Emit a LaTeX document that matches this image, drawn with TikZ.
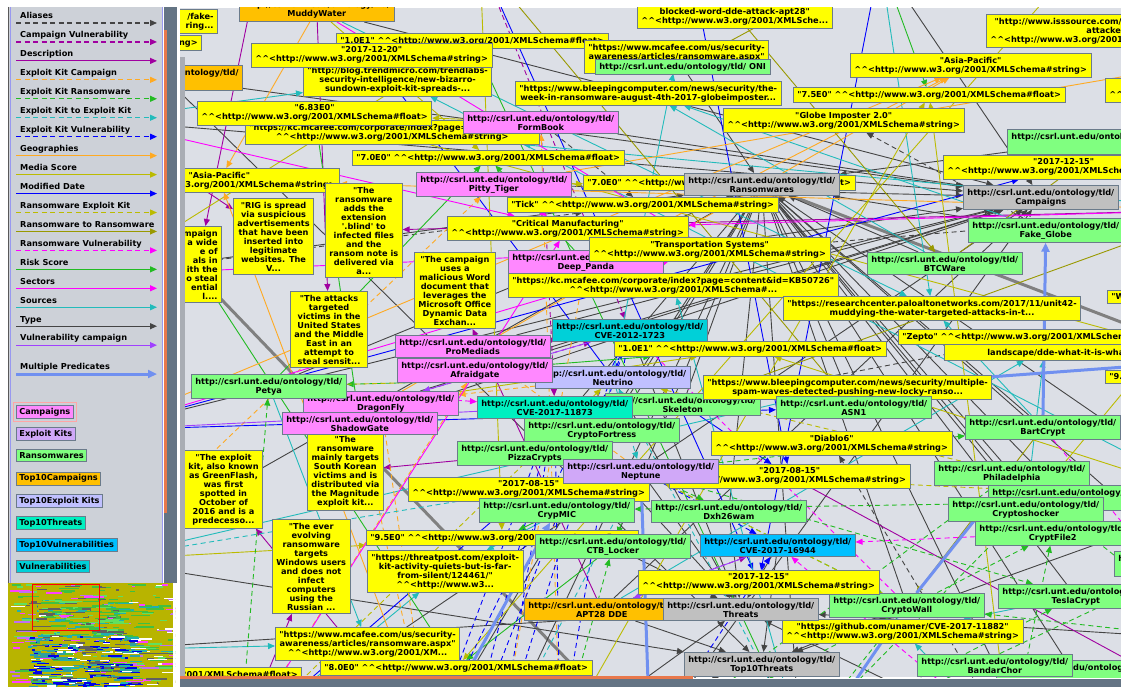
\documentclass[tikz,border=0pt]{standalone}
\usepackage{fontspec}
\newfontfamily\gfont{DejaVu Sans}
\usetikzlibrary{arrows.meta}

\definecolor{canvasbg}{HTML}{DCDFE6}
\definecolor{panelbg}{HTML}{CDD1D8}
\definecolor{slate}{HTML}{647484}
\definecolor{thumb}{HTML}{E8784C}
\definecolor{colgray}{HTML}{A9ADB4}
\definecolor{boxline}{HTML}{6B7B8B}
\definecolor{panline}{HTML}{9898F0}
\definecolor{litfill}{HTML}{FFFF00}
\definecolor{ransfill}{HTML}{80FF80}
\definecolor{campfill}{HTML}{FF88FF}
\definecolor{ekfill}{HTML}{D0A8F8}
\definecolor{tcampfill}{HTML}{FFC000}
\definecolor{tekfill}{HTML}{C0C0FF}
\definecolor{tthrfill}{HTML}{00F0C0}
\definecolor{tvulfill}{HTML}{00C0FF}
\definecolor{vulfill}{HTML}{00D0D8}
\definecolor{clsfill}{HTML}{C0C0C0}
\definecolor{ctyp}{HTML}{444444}
\definecolor{cpurp}{HTML}{A000A0}
\definecolor{corange}{HTML}{FFAA22}
\definecolor{cgreen}{HTML}{22BB22}
\definecolor{ccyan}{HTML}{22BBBB}
\definecolor{cblue}{HTML}{0000FF}
\definecolor{colive}{HTML}{BBBB00}
\definecolor{cdolive}{HTML}{999900}
\definecolor{cmag}{HTML}{FF00FF}
\definecolor{cviol}{HTML}{A040FF}
\definecolor{cmulti}{HTML}{7090F0}
\definecolor{cthick}{HTML}{808080}
\definecolor{mmol}{HTML}{B8B400}
\definecolor{mmg}{HTML}{40C040}
\definecolor{mml}{HTML}{60E060}
\definecolor{mmc}{HTML}{20B0B0}
\definecolor{mmt}{HTML}{30A0A0}
\definecolor{mmb}{HTML}{0000E8}
\definecolor{mmw}{HTML}{FFFFFF}
\definecolor{mmv}{HTML}{C070F0}
\definecolor{mmk}{HTML}{606060}
\definecolor{mmp}{HTML}{FF40FF}

\newcommand{\hats}{\textasciicircum\textasciicircum}
\newcommand{\xs}[1]{\hats<http://www.w3.org/2001/XMLSchema\##1>}
\newcommand{\tld}{http://csrl.unt.edu/ontology/tld/}

\pgfdeclarelayer{canvas}
\pgfdeclarelayer{edges}
\pgfsetlayers{canvas,edges,main}

\begin{document}
\begin{tikzpicture}[x=1pt,y=-1pt,
  nbox/.style={draw=boxline,line width=0.8pt,inner xsep=4pt,inner ysep=3.4pt,align=center,
    font=\gfont\bfseries\fontsize{8.2}{9}\selectfont},
  lit/.style={nbox,fill=litfill},
  rans/.style={nbox,fill=ransfill},
  campn/.style={nbox,fill=campfill},
  ekit/.style={nbox,fill=ekfill},
  tcamp/.style={nbox,fill=tcampfill},
  tek/.style={nbox,fill=tekfill},
  tthr/.style={nbox,fill=tthrfill},
  tvul/.style={nbox,fill=tvulfill},
  vul/.style={nbox,fill=vulfill},
  cls/.style={nbox,fill=clsfill},
  lgtxt/.style={inner sep=0pt,font=\gfont\bfseries\fontsize{8.2}{9}\selectfont},
  arr/.style={line width=0.9pt,-{Triangle[length=7pt,width=6pt]}},
  dsh/.style={dash pattern=on 5pt off 3.5pt},
  typ/.style={arr,draw=ctyp},
  al/.style={arr,dsh,draw=ctyp},
  ds/.style={arr,draw=cpurp},
  cv/.style={arr,dsh,draw=cpurp},
  ekc/.style={arr,dsh,draw=corange},
  ekr/.style={arr,dsh,draw=cgreen},
  eke/.style={arr,dsh,draw=ccyan},
  ekv/.style={arr,dsh,draw=cblue},
  geo/.style={arr,draw=corange},
  med/.style={arr,draw=colive},
  mod/.style={arr,draw=cblue},
  rek/.style={arr,dsh,draw=colive},
  rr/.style={arr,draw=cdolive},
  rv/.style={arr,dsh,draw=cmag},
  risk/.style={arr,draw=cgreen},
  sec/.style={arr,draw=cmag},
  src/.style={arr,draw=ccyan},
  vc/.style={arr,draw=cviol},
  mp/.style={draw=cmulti,line width=3pt,-{Triangle[length=9pt,width=8pt]}},
  tthick/.style={draw=cthick,line width=3pt}]

\useasboundingbox (0,0) rectangle (1121,687);
\begin{pgfonlayer}{canvas}
  \fill[white] (0,0) rectangle (1121,687);
  \fill[canvasbg] (180,8) rectangle (1121,677);
\end{pgfonlayer}

\begin{scope}
  \clip (180,8) rectangle (1121,677);
  \node[lit,anchor=north west] (f10) at (336,33) {"1.0E1" \xs{float}};
  \node[lit,anchor=north west] (trend) at (303,63) {"http://blog.trendmicro.com/trendlabs-\\security-intelligence/new-bizarro-\\sundown-exploit-kit-spreads-...};
  \node[lit,anchor=north west] (d1220) at (251,43) {"2017-12-20"\\\xs{string}};
  \node[lit,anchor=north east,align=right] (fake) at (218,9) {\hspace*{30pt}/fake-\\ring...};
  \node[tcamp,anchor=south west] (mud) at (239,22) {\tld\\MuddyWater};
  \node[lit,anchor=north east] (gstr) at (202,35) {\xs{string}};
  \node[tcamp,anchor=north east] (ontl) at (243,65) {\tld\\\strut};
  \node[lit,anchor=north west] (kcm1) at (245,120) {"https://kc.mcafee.com/corporate/index?page=content\&id=...\\\xs{string}};
  \node[lit,anchor=north west] (s683) at (197,101) {"6.83E0"\\\xs{float}};
  \node[campn,anchor=north west] (formb) at (463,111) {\tld\\FormBook};
  \node[lit,anchor=north west] (s70a) at (352,150) {"7.0E0" \xs{float}};
  \node[lit,anchor=north east] (asia1) at (340,168) {"Asia-Pacific"\\\xs{string}};
  \node[campn,anchor=north west] (pitty) at (416,172) {\tld\\Pitty\_Tiger};
  \node[lit,anchor=north west] (s70b) at (583,175) {"7.0E0" \xs{float}};
  \node[cls,anchor=north west] (ransw) at (684,173) {\tld\\Ransomwares};
  \node[lit,anchor=north west] (tick) at (507,197) {"Tick" \xs{string}};
  \node[lit,anchor=north west] (critm) at (447,216) {"Critical Manufacturing"\\\xs{string}};
  \node[campn,anchor=north west] (deepp) at (508,250) {\tld\\Deep\_Panda};
  \node[lit,anchor=north west] (transp) at (589,237) {"Transportation Systems"\\\xs{string}};
  \node[lit,anchor=north west] (kcm2) at (508,273) {"https://kc.mcafee.com/corporate/index?page=content\&id=KB50726"\\\hats<http://www.w3.org/2001/XMLSchema\#...};
  \node[lit,anchor=north west] (palo) at (783,296) {"https://researchcenter.paloaltonetworks.com/2017/11/unit42-\\muddying-the-water-targeted-attacks-in-t...};
  \node[rans,anchor=north west] (btcw) at (867,252) {\tld\\BTCWare};
  \node[cls,anchor=north west] (camp) at (963,185) {\tld\\Campaigns};
  \node[rans,anchor=north west] (fakeg) at (968,218) {\tld\\Fake\_Globe};
  \node[rans,anchor=north west] (grn1) at (1007,129) {\tld\\\strut};
  \node[lit,anchor=north west] (d1215a) at (943,155) {"2017-12-15"\\\xs{string}};
  \node[lit,anchor=north west] (globe) at (723,108) {"Globe Imposter 2.0"\\\xs{string}};
  \node[lit,anchor=north west] (s75) at (793,87) {"7.5E0" \xs{float}};
  \node[lit,anchor=north west] (asia2) at (850,53) {"Asia-Pacific"\\\xs{string}};
  \node[lit,anchor=north west] (isss) at (986,14) {"http://www.isssource.com/\hspace*{97pt}\\attacked\hspace*{12pt}\\\xs{string}};
  \node[lit,anchor=north west,align=left] (rpart1) at (1105,78) {\strut\\\xs{string}};
  \node[lit,anchor=south west] (dde) at (637,29) {\strut\\blocked-word-dde-attack-apt28"\\\hats<http://www.w3.org/2001/XMLSche...};
  \node[lit,anchor=north west] (mcaf1) at (584,40) {"https://www.mcafee.com/us/security-\\awareness/articles/ransomware.aspx"\\\hats<http://www.w3.org/2001/XM...};
  \node[rans,anchor=north west] (oni) at (595,59) {\tld\ ONI};
  \node[lit,anchor=north west] (bleep1) at (515,81) {"https://www.bleepingcomputer.com/news/security/the-\\week-in-ransomware-august-4th-2017-globeimposter...};
  \node[lit,anchor=north east,align=right] (campdesc) at (222,226) {ampaign\\a wide\\e of\\als in\\ith the\\o steal\\ential\\l....};
  \node[lit,anchor=north west] (rig) at (233,198) {"RIG is spread\\via suspicious\\advertisements\\that have been\\inserted into\\legitimate\\websites. The\\V...};
  \node[lit,anchor=north west] (blind) at (325,183) {"The\\ransomware\\adds the\\extension\\'.blind' to\\infected files\\and the\\ransom note is\\delivered via\\a...};
  \node[lit,anchor=north west] (attacks) at (290,291) {"The attacks\\targeted\\victims in the\\United States\\and the Middle\\East in an\\attempt to\\steal sensit...};
  \node[lit,anchor=north west] (wordcamp) at (414,252) {"The campaign\\uses a\\malicious Word\\document that\\leverages the\\Microsoft Office\\Dynamic Data\\Exchan...};
  \node[campn,anchor=north west] (promed) at (395,335) {\tld\\ProMediads};
  \node[tek,anchor=north west] (neutr) at (535,366) {\tld\\Neutrino};
  \node[campn,anchor=north west] (afraid) at (397,358) {\tld\\Afraidgate};
  \node[vul,anchor=north west] (cve1723) at (552,319) {\tld\\CVE-2012-1723};
  \node[lit,anchor=north west] (f10b) at (614,341) {"1.0E1" \xs{float}};
  \node[campn,anchor=north west] (dragon) at (303,391) {\tld\\DragonFly};
  \node[rans,anchor=north west] (petya) at (191,374) {\tld\\Petya};
  \node[lit,anchor=north west] (skorea) at (307,432) {"The\\ransomware\\mainly targets\\South Korean\\victims and is\\distributed via\\the Magnitude\\exploit kit...};
  \node[campn,anchor=north west] (shadow) at (282,412) {\tld\\ShadowGate};
  \node[rans,anchor=north west] (skel) at (605,393) {\tld\\Skeleton};
  \node[rans,anchor=north west] (cfort) at (524,418) {\tld\\CryptoFortress};
  \node[tthr,anchor=north west] (cve11873) at (477,396) {\tld\\CVE-2017-11873};
  \node[lit,anchor=north west] (bleep2) at (703,375) {"https://www.bleepingcomputer.com/news/security/multiple-\\spam-waves-detected-pushing-new-locky-ranso...};
  \node[rans,anchor=north west] (asn1) at (776,396) {\tld\\ASN1};
  \node[rans,anchor=north west] (bart) at (965,415) {\tld\\BartCrypt};
  \node[lit,anchor=north west] (diablo) at (711,431) {"Diablo6"\\\xs{string}};
  \node[lit,anchor=north west,align=left] (dde2) at (944,336) {\strut\\\hspace*{39pt}landscape/dde-what-it-is-what-...};
  \node[lit,anchor=north west] (zepto) at (898,329) {"Zepto" \xs{string}};
  \node[lit,anchor=north west,align=left] (wpart) at (1107,290) {"W\hspace*{40pt}};
  \node[lit,anchor=north west,align=left] (npart) at (1105,370) {"9.\hspace*{40pt}};
  \node[rans,anchor=north west] (phila) at (934,461) {\tld\\Philadelphia};
  \node[rans,anchor=north west] (grn2) at (988,485) {\tld\\\strut};
  \node[rans,anchor=north west] (cshock) at (948,497) {\tld\\Cryptoshocker};
  \node[rans,anchor=north west] (cfile) at (975,521) {\tld\\CryptFile2};
  \node[rans,anchor=north west] (grn3) at (1114,551) {\tld\\\strut};
  \node[rans,anchor=north west] (tesla) at (998,584) {\tld\\TeslaCrypt};
  \node[rans,anchor=north west] (cwall) at (829,593) {\tld\\CryptoWall};
  \node[lit,anchor=north west] (github) at (782,619) {"https://github.com/unamer/CVE-2017-11882"\\\xs{string}};
  \node[rans,anchor=north west] (grn4) at (996,660) {\tld\\\strut};
  \node[rans,anchor=north west] (bandar) at (917,654) {\tld\\BandarChor};
  \node[lit,anchor=north west] (d1215b) at (638,570) {"2017-12-15"\\\xs{string}};
  \node[tcamp,anchor=north west] (apt28) at (524,598) {\tld\\APT28 DDE};
  \node[cls,anchor=north west] (threats) at (663,598) {\tld\\Threats};
  \node[cls,anchor=north west] (top10t) at (684,652) {\tld\\Top10Threats};
  \node[tvul,anchor=north west] (cve16944) at (700,534) {\tld\\CVE-2017-16944};
  \node[rans,anchor=north west] (dxh) at (651,500) {\tld\\Dxh26wam};
  \node[lit,anchor=north west] (d0815a) at (669,464) {"2017-08-15"\\\xs{string}};
  \node[rans,anchor=north west] (pizza) at (457,441) {\tld\\PizzaCrypts};
  \node[lit,anchor=north west] (d0815b) at (408,477) {"2017-08-15"\\\xs{string}};
  \node[ekit,anchor=north west] (neptune) at (563,459) {\tld\\Neptune};
  \node[rans,anchor=north west] (crypmic) at (479,498) {\tld\\CrypMIC};
  \node[lit,anchor=north west] (s95) at (366,530) {"9.5E0" \xs{float}};
  \node[rans,anchor=north west] (ctb) at (535,534) {\tld\\CTB\_Locker};
  \node[lit,anchor=north west] (threatp) at (367,550) {"https://threatpost.com/exploit-\\kit-activity-quiets-but-is-far-\\from-silent/124461/"\\\hats<http://www.w3...};
  \node[lit,anchor=north west] (greenf) at (184,450) {"The exploit\\kit, also known\\as GreenFlash,\\was first\\spotted in\\October of\\2016 and is a\\predecesso...};
  \node[lit,anchor=north west] (evolv) at (272,519) {"The ever\\evolving\\ransomware\\targets\\Windows users\\and does not\\infect\\computers\\using the\\Russian ...};
  \node[lit,anchor=north west] (mcaf2) at (275,627) {"https://www.mcafee.com/us/security-\\awareness/articles/ransomware.aspx"\\\hats<http://www.w3.org/2001/XM...};
  \node[lit,anchor=north west] (s80) at (320,660) {"8.0E0" \xs{float}};
  \node[lit,anchor=north east] (fpart) at (302,667) {\xs{float}};
\end{scope}

\begin{pgfonlayer}{edges}
  \clip (180,8) rectangle (1121,677);
  \coordinate (oL1) at (100,120);
  \coordinate (oL2) at (100,275);
  \coordinate (oL3) at (100,430);
  \coordinate (oL4) at (100,560);
  \coordinate (oL5) at (100,650);
  \coordinate (oT1) at (260,-40);
  \coordinate (oT2) at (480,-40);
  \coordinate (oT3) at (690,-40);
  \coordinate (oT4) at (880,-40);
  \coordinate (oT5) at (1080,-40);
  \coordinate (oR1) at (1220,60);
  \coordinate (oR2) at (1220,210);
  \coordinate (oR3) at (1220,360);
  \coordinate (oR4) at (1220,500);
  \coordinate (oR5) at (1220,640);
  \coordinate (oR6) at (1220,710);
  \coordinate (oB1) at (240,740);
  \coordinate (oB2) at (430,740);
  \coordinate (oB3) at (560,740);
  \coordinate (oB4) at (800,740);
  \coordinate (oB5) at (1010,740);
  \coordinate (oB6) at (500,740);
  \coordinate (oB7) at (650,740);
  \coordinate (oB8) at (815,740);
  \coordinate (oB9) at (470,740);
  \coordinate (tgA) at (150,225);
  \coordinate (tgB) at (625,720);

  \draw[tthick] (tgA) -- (tgB);
  \draw[tthick] (ransw) -- (oR3);
  \foreach \a in {petya,cfort,skel,pizza,crypmic,ctb,dxh,asn1,bart,btcw,fakeg,oni,phila,cshock,cfile,tesla,cwall,bandar,grn1,grn2,grn3,grn4,oL2,oL4,oB2,oB4,oR4,oB6}
    \draw[typ] (\a) -- (ransw);
  \foreach \a in {formb,pitty,deepp,promed,afraid,dragon,shadow,mud,ontl,apt28,oL1,oL3,oB1,oB7,oT4}
    \draw[typ] (\a) -- (camp);
  \foreach \a in {oB3,oB5,ctb,cve1723,oL5,neutr,neptune,cve11873,cve16944,oR5,dxh}
    \draw[typ] (\a) -- (threats);
  \foreach \a in {apt28,ontl,cve16944,oB4,oB6,oR4,oL4,cwall}
    \draw[typ] (\a) -- (top10t);
  \foreach \a/\b in {formb/tick,fakeg/globe,oB5/diablo,skel/zepto,oR3/wpart,oL2/tick,deepp/oR2}
    \draw[al] (\a) -- (\b);
  \foreach \a/\b in {mud/attacks,apt28/wordcamp,oL1/rig,oB2/greenf,oR2/blind,oB1/evolv,pizza/skorea,oT1/campdesc,d0815a/oR6}
    \draw[ds] (\a) -- (\b);
  \foreach \a/\b in {dragon/cve1723,apt28/cve16944,formb/cve11873,oT2/cve1723}
    \draw[cv] (\a) -- (\b);
  \foreach \a/\b in {neutr/d1220,oL3/d1215a,oB1/d0815b,skel/d0815a,oT2/d1215b,oT3/d0815a,oL3/asn1,oT4/d1215b}
    \draw[mod] (\a) -- (\b);
  \foreach \a/\b in {cfort/mcaf1,fakeg/bleep1,oL1/trend,formb/kcm1,deepp/kcm2,mud/palo,oR1/isss,oT3/dde,apt28/dde2,oL4/bleep2,oB5/github,oB1/threatp,oL5/mcaf2,oL1/fake,skel/bleep2,petya/mcaf2,neptune/threatp,btcw/bleep1,asn1/bleep2,bart/palo,tesla/github,oB4/kcm2,oT4/palo,cshock/dde2,oR2/kcm1,oR4/trend}
    \draw[src] (\a) -- (\b);
  \foreach \a/\b in {formb/s683,pitty/s70b,oB3/s75,oL2/f10,dragon/f10b,oL4/s95,oT5/s80,mud/s70a,oR4/f10b,oB5/s75,cshock/npart,oR3/s683,oT2/s95}
    \draw[med] (\a) -- (\b);
  \foreach \a/\b in {neptune/s95,ctb/s80,oR3/npart,deepp/s70a,oT4/s75,shadow/s683,afraid/f10b,oL1/s80,oB4/f10,petya/s70a}
    \draw[risk] (\a) -- (\b);
  \foreach \a/\b in {oL3/asia2,mud/asia1,oR2/asia1,dragon/asia2,deepp/asia2,oB2/asia1,pitty/oR1}
    \draw[geo] (\a) -- (\b);
  \foreach \a/\b in {neutr/dragon,oB2/shadow,neptune/promed,oB3/formb,oL4/pitty,oB1/afraid,oB6/deepp,oB2/dragon}
    \draw[ekc] (\a) -- (\b);
  \foreach \a/\b in {pitty/critm,oL2/transp,deepp/transp,oL1/critm,mud/transp,oL3/transp,oB1/critm,oR2/critm}
    \draw[sec] (\a) -- (\b);
  \foreach \a/\b in {cfile/cve16944,petya/cve11873,cwall/cve1723,bart/oR5,oB5/cve16944}
    \draw[rv] (\a) -- (\b);
  \foreach \a/\b in {neutr/cve1723,neptune/cve16944,oB2/cve11873,oB3/cve1723,oB6/cve11873,oB7/cve16944,oB3/cve11873,oB2/cve1723,oB6/cve1723,oB9/cve11873,oB9/cve1723}
    \draw[ekv] (\a) -- (\b);
  \foreach \a/\b in {neptune/cwall,neptune/tesla,oB4/cshock,oB5/cfile,oB4/phila,neutr/petya,oB1/petya,oB5/bandar,neptune/bart,oR5/cwall,oB4/tesla,oR4/crypmic,neptune/dxh,neptune/ctb,oB3/ctb,oB7/phila,oB7/cfile,oR5/phila,oB8/grn3}
    \draw[ekr] (\a) -- (\b);
  \foreach \a/\b in {neutr/neptune,oB6/neptune,oL4/neptune,oB4/neutr}
    \draw[eke] (\a) -- (\b);
  \foreach \a/\b in {petya/neutr,cwall/neptune,oR4/neptune,phila/neutr,oB1/neutr}
    \draw[rek] (\a) -- (\b);
  \foreach \a/\b in {cshock/cfile,oT3/btcw,oni/oT4,bart/cwall,oR2/skel,oT2/asn1,btcw/oR1}
    \draw[rr] (\a) -- (\b);
  \foreach \a/\b in {cve1723/dragon,cve16944/apt28,cve11873/oL3}
    \draw[vc] (\a) -- (\b);
  \foreach \a/\b in {bart/fakeg,oB8/cwall,cwall/phila,oB2/crypmic,bleep2/oR3,oB7/neptune}
    \draw[mp] (\a) -- (\b);
\end{pgfonlayer}

\fill[colgray] (180,57) rectangle (184.5,676);
\fill[thumb] (180,676) rectangle (693,678.5);
\fill[slate] (180,678.5) rectangle (1121,687);

\fill[panelbg] (8,7) rectangle (163,583);
\draw[gray!70!black,line width=0.6pt] (8.3,7) -- (8.3,583);
\draw[panline,line width=0.8pt] (10.2,7) -- (10.2,583);
\draw[panline,line width=0.8pt] (162.6,7) -- (162.6,583);
\fill[slate] (163.5,7) rectangle (177,583);
\fill[thumb] (164,30) rectangle (167,513);

\foreach \i/\lbl/\sty in {0/Aliases/al,1/Campaign Vulnerability/cv,2/Description/ds,3/Exploit Kit Campaign/ekc,
    4/Exploit Kit Ransomware/ekr,5/Exploit Kit to Exploit Kit/eke,6/Exploit Kit Vulnerability/ekv,7/Geographies/geo,
    8/Media Score/med,9/Modified Date/mod,10/Ransomware Exploit Kit/rek,11/Ransomware to Ransomware/rr,
    12/Ransomware Vulnerability/rv,13/Risk Score/risk,14/Sectors/sec,15/Sources/src,16/Type/typ,17/Vulnerability campaign/vc}{
  \node[lgtxt,anchor=base west] (lg\i) at (20,18.8+18.95*\i) {\lbl};
  \coordinate (la\i) at (16,23+18.95*\i);
  \coordinate (lb\i) at (157,23+18.95*\i);
  \draw[\sty,line width=1.2pt] (la\i) -- (lb\i);
}
\node[lgtxt,anchor=base west] (lgmp) at (20,369.5) {Multiple Predicates};
\coordinate (lamp) at (16,374);
\coordinate (lbmp) at (157,374);
\draw[mp] (lamp) -- (lbmp);

\foreach \i/\lbl/\sty in {0/Campaigns/campn,1/Exploit Kits/ekit,2/Ransomwares/rans,3/Top10Campaigns/tcamp,
    4/Top10Exploit Kits/tek,5/Top10Threats/tthr,6/Top10Vulnerabilities/tvul,7/Vulnerabilities/vul}
  \node[\sty,anchor=north west,inner ysep=2.6pt,inner xsep=3pt] (cl\i) at (16,405+22.2*\i) {\lbl};
\draw[red!35!white,line width=0.8pt] ([xshift=-2.5pt,yshift=2.5pt]cl0.north west) rectangle ([xshift=2.5pt,yshift=-2.5pt]cl0.south east);

\begin{scope}
  \clip (8,583) rectangle (175,687);
  \fill[mmol] (8,583) rectangle (175,687);
  \pgfmathsetseed{11}
  \pgfmathdeclarerandomlist{mmtop}{{mmg}{mmv}{mmw}{mmk}{mmc}{mmg}{mmp}{mml}}
  \pgfmathdeclarerandomlist{mmmid}{{mmg}{mml}{mmg}{mmc}{mmk}}
  \pgfmathdeclarerandomlist{mmlow}{{mmb}{mmt}{mmb}{mmc}{mmt}{mmw}{mmk}}
  \foreach \i in {1,...,320}{
    \pgfmathsetmacro{\mx}{10+160*rnd}
    \pgfmathsetmacro{\my}{584+100*rnd}
    \pgfmathsetmacro{\mw}{4+18*rnd}
    \pgfmathrandomitem{\mc}{mmtop}
    \fill[\mc] (\mx,\my) rectangle ++(\mw,1.5);
  }
  \foreach \i in {1,...,260}{
    \pgfmathsetmacro{\mx}{35+85*rnd}
    \pgfmathsetmacro{\my}{598+38*rnd}
    \pgfmathsetmacro{\mw}{4+16*rnd}
    \pgfmathrandomitem{\mc}{mmmid}
    \fill[\mc] (\mx,\my) rectangle ++(\mw,1.5);
  }
  \foreach \i in {1,...,380}{
    \pgfmathsetmacro{\mx}{28+105*rnd}
    \pgfmathsetmacro{\my}{636+51*rnd}
    \pgfmathsetmacro{\mw}{3+14*rnd}
    \pgfmathrandomitem{\mc}{mmlow}
    \fill[\mc] (\mx,\my) rectangle ++(\mw,1.5);
  }
  \foreach \i in {1,...,110}{
    \pgfmathsetmacro{\mx}{8+160*rnd}
    \pgfmathsetmacro{\my}{584+102*rnd}
    \pgfmathsetmacro{\mw}{8+30*rnd}
    \fill[mmol] (\mx,\my) rectangle ++(\mw,2.2);
  }
  \fill[white] (173,583) rectangle (175,687);
  \draw[red,line width=0.7pt] (32,584.5) rectangle (99,630);
\end{scope}
\end{tikzpicture}
\end{document}
